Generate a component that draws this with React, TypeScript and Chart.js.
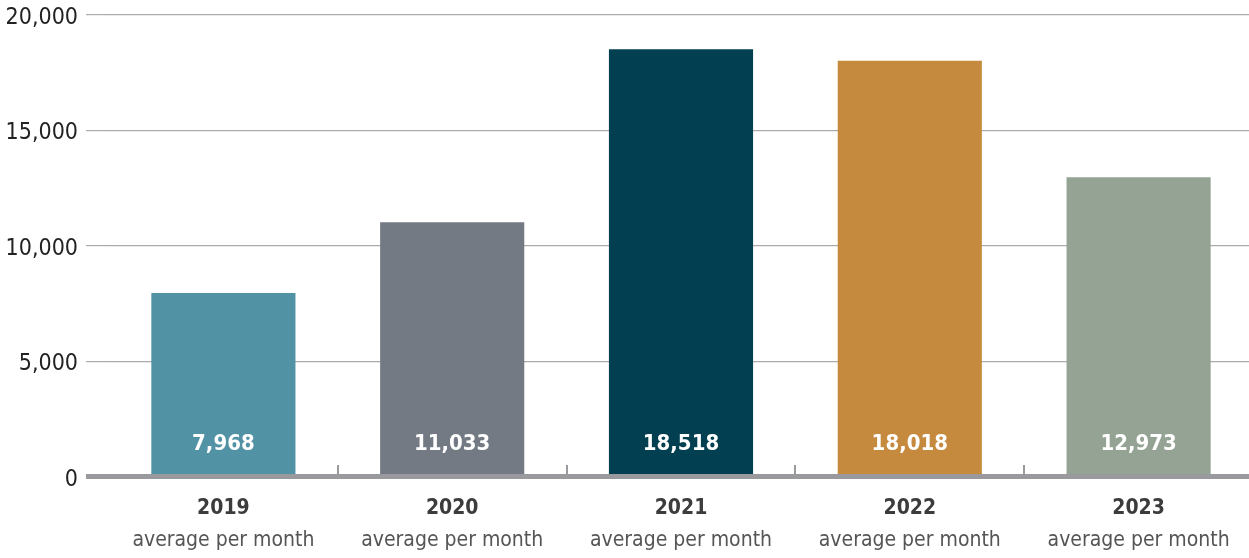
import React, { useEffect, useRef } from "react";
import { Chart, registerables } from "chart.js";

Chart.register(...registerables);

const years = ["2019", "2020", "2021", "2022", "2023"];
const subLabel = "average per month";
const values = [7968, 11033, 18518, 18018, 12973];
const barColors = ["#5192A5", "#737A83", "#023F50", "#C68A3E", "#95A395"];
const yTicks = [0, 5000, 10000, 15000, 20000];

const FONT = '"Liberation Sans Narrow", "DejaVu Sans Condensed", "Roboto", sans-serif';
const AXIS_COLOR = "#9a9a9e";
const GRID_COLOR = "#ababae";

const overlayPlugin = {
  id: "overlay",
  afterDatasetsDraw(chart: any) {
    const ctx = chart.ctx;
    const x = chart.scales.x;
    const y = chart.scales.y;
    const y0 = y.getPixelForValue(0);
    ctx.save();
    // axis line
    ctx.fillStyle = AXIS_COLOR;
    ctx.fillRect(86, y0 - 3, chart.width - 86, 5);
    // tick marks between categories
    for (let i = 1; i < years.length; i++) {
      const px = (x.getPixelForValue(i - 1) + x.getPixelForValue(i)) / 2;
      ctx.fillRect(Math.round(px) - 1, y0 - 12, 2, 10);
    }
    // bar value labels
    ctx.textAlign = "center";
    ctx.textBaseline = "middle";
    ctx.fillStyle = "#ffffff";
    ctx.font = `bold 22px ${FONT}`;
    values.forEach((v, i) => {
      ctx.fillText(v.toLocaleString("en-US"), x.getPixelForValue(i), y0 - 33);
    });
    // category labels
    years.forEach((yr, i) => {
      const px = x.getPixelForValue(i);
      ctx.fillStyle = "#3c3c3c";
      ctx.font = `bold 21px ${FONT}`;
      ctx.fillText(yr, px, y0 + 32);
      ctx.fillStyle = "#555555";
      ctx.font = `21px ${FONT}`;
      ctx.fillText(subLabel, px, y0 + 64);
    });
    ctx.restore();
  },
};

export default function App() {
  const ref = useRef<HTMLCanvasElement>(null);
  useEffect(() => {
    if (!ref.current) return;
    const chart = new Chart(ref.current, {
      type: "bar",
      data: {
        labels: years,
        datasets: [
          {
            data: values,
            backgroundColor: barColors,
            barPercentage: 0.63,
            categoryPercentage: 1,
          },
        ],
      },
      options: {
        responsive: false,
        animation: false,
        devicePixelRatio: 1,
        layout: { padding: { top: 0, left: 0, right: 0, bottom: 0 } },
        plugins: { legend: { display: false }, tooltip: { enabled: false } },
        scales: {
          x: {
            grid: { display: false },
            border: { display: false },
            ticks: { display: false },
            afterFit: (s: any) => {
              s.height = 81;
            },
          },
          y: {
            min: 0,
            max: 20000,
            afterBuildTicks: (s: any) => {
              s.ticks = yTicks.map((v) => ({ value: v }));
            },
            afterFit: (s: any) => {
              s.width = 109;
              s.paddingTop = 15;
            },
            border: { display: false },
            grid: {
              color: (c: any) => (c.tick && c.tick.value === 0 ? "rgba(0,0,0,0)" : GRID_COLOR),
              lineWidth: 1.2,
              drawTicks: true,
              tickLength: 23,
            },
            ticks: {
              padding: 8,
              labelOffset: 3,
              color: "#222222",
              font: { family: FONT, size: 23 },
              callback: (v: any) => Number(v).toLocaleString("en-US"),
            },
          },
        },
      },
      plugins: [overlayPlugin],
    });
    return () => chart.destroy();
  }, []);
  return (
    <div style={{ position: "fixed", left: 0, top: 0, width: 1249, height: 558, overflow: "hidden", background: "#fff" }}>
      <canvas ref={ref} width={1253} height={558} style={{ display: "block", width: 1253, height: 558 }} />
    </div>
  );
}
